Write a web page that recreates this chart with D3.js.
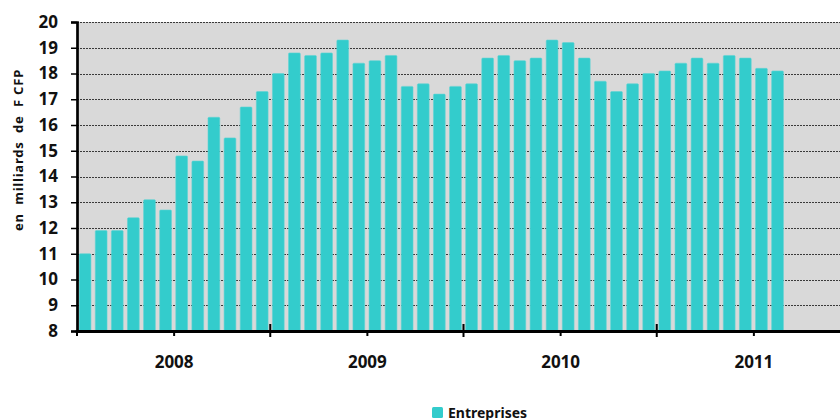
<!DOCTYPE html>
<html>
<head>
<meta charset="utf-8">
<script src="https://cdn.jsdelivr.net/npm/d3@7"></script>
<style>
  html, body { margin: 0; padding: 0; background: #fff; }
  svg { display: block; }
  text { font-family: "Noto Sans", "Open Sans", sans-serif; font-weight: bold; fill: #111; }
</style>
</head>
<body>
<svg id="chart" width="840" height="420"></svg>
<script>
// ---- data ----
const years = ["2008", "2009", "2010", "2011"];
const monthNames = ["01","02","03","04","05","06","07","08","09","10","11","12"];
const values = [
  11.0, 11.9, 11.9, 12.4, 13.1, 12.7, 14.8, 14.6, 16.3, 15.5, 16.7, 17.3,
  18.0, 18.8, 18.7, 18.8, 19.3, 18.4, 18.5, 18.7, 17.5, 17.6, 17.2, 17.5,
  17.6, 18.6, 18.7, 18.5, 18.6, 19.3, 19.2, 18.6, 17.7, 17.3, 17.6, 18.0,
  18.1, 18.4, 18.6, 18.4, 18.7, 18.6, 18.2, 18.1
];
const yTicks = [8, 9, 10, 11, 12, 13, 14, 15, 16, 17, 18, 19, 20];
const seriesName = "Entreprises";
const yTitle = "en  milliards  de  F CFP";

// categories: every month of the years
const months = [];
years.forEach(y => monthNames.forEach(m => months.push(y + "-" + m)));
const data = values.map((v, i) => ({ month: months[i], value: v }));

// ---- layout ----
const mLeft = 77, mRight = 850, mTop = 22, mBottom = 331;
const svg = d3.select("#chart");

const x = d3.scaleBand().domain(months).range([mLeft, mRight])
  .paddingInner(0.27).paddingOuter(0.135);
const xi = d3.scaleLinear().domain([0, months.length]).range([mLeft, mRight]);
const y = d3.scaleLinear().domain([8, 20]).range([mBottom, mTop]);

// plot background
svg.append("rect")
  .attr("x", mLeft).attr("y", mTop)
  .attr("width", mRight - mLeft).attr("height", mBottom - mTop)
  .attr("fill", "#d9d9d9");

// gridlines
svg.append("g")
  .selectAll("line")
  .data(yTicks.filter(t => t > 8))
  .join("line")
  .attr("x1", mLeft).attr("x2", mRight)
  .attr("y1", d => Math.round(y(d)) + 0.5).attr("y2", d => Math.round(y(d)) + 0.5)
  .attr("stroke", "#3a3a3a")
  .attr("stroke-width", 1)
  .attr("stroke-dasharray", "2,1");

// bars
svg.append("g")
  .selectAll("rect")
  .data(data)
  .join("rect")
  .attr("x", d => x(d.month))
  .attr("width", x.bandwidth())
  .attr("y", d => y(d.value))
  .attr("height", d => y(8) - y(d.value))
  .attr("rx", 1)
  .attr("fill", "#33cccc")
  .attr("stroke", "#5fd3d3")
  .attr("stroke-width", 0.6);

// y axis
const yAxis = d3.axisLeft(y).tickValues(yTicks).tickSize(6).tickPadding(13).tickFormat(d3.format("d"));
const gy = svg.append("g").attr("transform", `translate(${mLeft},0)`).call(yAxis);
gy.select(".domain").attr("stroke", "#000").attr("stroke-width", 2.7);
gy.selectAll(".tick line").attr("stroke", "#000").attr("stroke-width", 1.5);
gy.selectAll(".tick text").style("font-size", "17px").attr("fill", "#111");

// x axis: half-year ticks with labels
const labelIdx = years.map((yy, i) => i * 12 + 6);
const xAxis = d3.axisBottom(xi).tickValues(labelIdx).tickSize(5).tickPadding(20)
  .tickFormat((d, i) => years[i]);
const gx = svg.append("g").attr("transform", `translate(0,${mBottom})`).call(xAxis);
gx.select(".domain").remove();
gx.selectAll(".tick line").attr("stroke", "#000").attr("stroke-width", 2);
gx.selectAll(".tick text").style("font-size", "17px").attr("fill", "#111");

// start tick
svg.append("line")
  .attr("x1", xi(0)).attr("x2", xi(0))
  .attr("y1", mBottom).attr("y2", mBottom + 5)
  .attr("stroke", "#000").attr("stroke-width", 2);

// year boundary ticks
svg.append("g")
  .selectAll("line")
  .data(years.slice(1).map((yy, i) => (i + 1) * 12))
  .join("line")
  .attr("x1", d => xi(d)).attr("x2", d => xi(d))
  .attr("y1", mBottom - 7).attr("y2", mBottom + 6)
  .attr("stroke", "#000").attr("stroke-width", 2);

// x axis line
svg.append("line")
  .attr("x1", mLeft - 1.3).attr("x2", 840)
  .attr("y1", mBottom + 0.5).attr("y2", mBottom + 0.5)
  .attr("stroke", "#000").attr("stroke-width", 3);

// y title
svg.append("text")
  .attr("transform", `translate(23,150) rotate(-90)`)
  .attr("text-anchor", "middle")
  .style("font-size", "13px")
  .style("letter-spacing", "0.8px")
  .style("white-space", "pre")
  .attr("xml:space", "preserve")
  .text(yTitle);

// legend
const lg = svg.append("g").attr("transform", "translate(432,407)");
lg.append("rect").attr("width", 11).attr("height", 11).attr("rx", 1.5).attr("fill", "#33cccc");
lg.append("text").attr("x", 16).attr("y", 10.5).style("font-size", "14px").text(seriesName);
</script>
</body>
</html>
